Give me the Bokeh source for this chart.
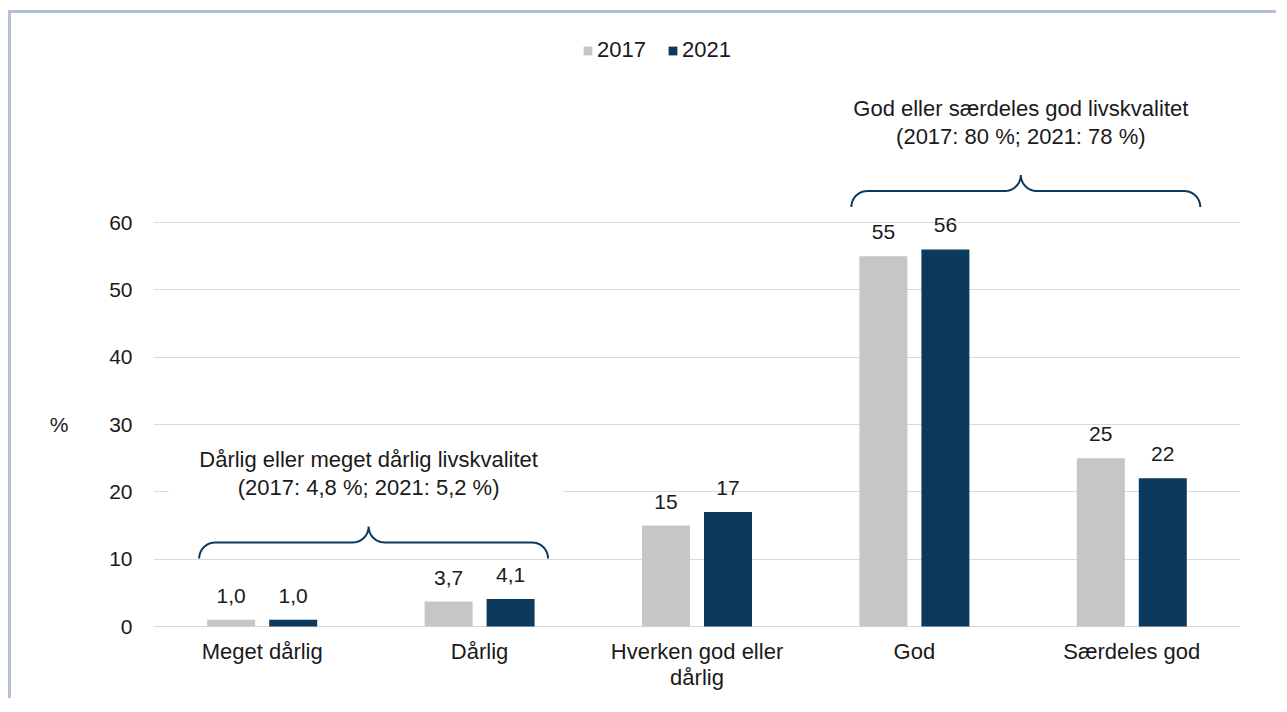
import math
from bokeh.plotting import figure
from bokeh.models import (ColumnDataSource, FactorRange, Range1d, FixedTicker, Legend,
                          LegendItem, LabelSet, Label, BoxAnnotation, LinearAxis)
from bokeh.transform import dodge
from bokeh.core.properties import value
from bokeh.embed import file_html
from bokeh.resources import INLINE

# ---------------- data ----------------
CATEGORIES = ["Meget dårlig", "Dårlig", "Hverken god eller\ndårlig", "God", "Særdeles god"]
SERIES = ["2017", "2021"]
VALUES_2017 = [1.0, 3.7, 15, 55, 25]
VALUES_2021 = [1.0, 4.1, 17, 56, 22]
Y_TICKS = [0, 10, 20, 30, 40, 50, 60]
Y_UNIT = "%"
# group annotations: title, subtitle, first category index, last category index, brace base (y value)
GROUP_TITLES = ["Dårlig eller meget dårlig livskvalitet", "God eller særdeles god livskvalitet"]
GROUP_SUBTITLES = ["(2017: 4,8 %; 2021: 5,2 %)", "(2017: 80 %; 2021: 78 %)"]
GROUP_FIRST = [0, 3]
GROUP_LAST = [1, 4]
GROUP_BASE = [10.1, 62.3]

# ---------------- style / layout ----------------
FONT = "Liberation Sans"
TEXT = "#1a1a1a"
GREY = "#c6c6c6"
NAVY = "#0b3a5e"
GRID = "#d9d9d9"
BORDER = "#b4c0d6"

W, H = 1268, 688
B_LEFT, B_RIGHT, B_TOP, B_BOTTOM = 142, 39, 0, 71
FRAME_W = W - B_LEFT - B_RIGHT
FRAME_H = H - B_TOP - B_BOTTOM
YPX = 6.7333            # pixels per unit on the value axis
Y0_PX = 4               # distance of value 0 above frame bottom
XPX = FRAME_W / len(CATEGORIES)

y_start = -Y0_PX / YPX
y_end = (FRAME_H - Y0_PX) / YPX

OFFSET = 31 / XPX
BAR_W = 48 / XPX


def fmt(v):
    return f"{v:.1f}".replace(".", ",") if v < 10 else f"{v:.0f}"


src = ColumnDataSource(dict(
    cat=CATEGORIES,
    y2017=VALUES_2017,
    y2021=VALUES_2021,
    l2017=[fmt(v) for v in VALUES_2017],
    l2021=[fmt(v) for v in VALUES_2021],
))

p = figure(width=W, height=H, output_backend="svg", toolbar_location=None,
           x_range=FactorRange(*CATEGORIES, range_padding=0),
           y_range=Range1d(y_start, y_end),
           min_border_left=B_LEFT, min_border_right=B_RIGHT,
           min_border_top=B_TOP, min_border_bottom=B_BOTTOM)
p.outline_line_color = None
p.background_fill_color = "white"
p.border_fill_color = "white"
p.styles = {"border-top": f"3px solid {BORDER}", "border-left": f"3px solid {BORDER}",
            "margin-left": "8px", "margin-top": "10px"}

r1 = p.vbar(x=dodge("cat", -OFFSET, range=p.x_range), top="y2017", width=BAR_W,
            source=src, fill_color=GREY, line_color=None)
r2 = p.vbar(x=dodge("cat", OFFSET, range=p.x_range), top="y2021", width=BAR_W,
            source=src, fill_color=NAVY, line_color=None)

for col, off in (("l2017", -OFFSET), ("l2021", OFFSET)):
    p.add_layout(LabelSet(x=dodge("cat", off, range=p.x_range), y=col.replace("l", "y"),
                          text=col, source=src, text_align="center",
                          text_baseline="alphabetic", y_offset=17,
                          text_font=value(FONT), text_font_size="21px", text_color=TEXT))

# axes
p.yaxis.ticker = FixedTicker(ticks=Y_TICKS)
p.yaxis.axis_line_color = None
p.yaxis.major_tick_line_color = None
p.yaxis.minor_tick_line_color = None
p.yaxis.major_label_standoff = 15
p.yaxis.major_label_text_font = FONT
p.yaxis.major_label_text_font_size = "21px"
p.yaxis.major_label_text_color = TEXT

# unit "%" placed at the middle of the value scale via an extra axis with one tick
mid = (Y_TICKS[0] + Y_TICKS[-1]) / 2
unit_axis = LinearAxis(ticker=FixedTicker(ticks=[mid]), major_label_overrides={mid: Y_UNIT},
                       axis_line_color=None, major_tick_line_color=None,
                       minor_tick_line_color=None, major_label_standoff=32,
                       major_label_text_font=FONT, major_label_text_font_size="21px",
                       major_label_text_color=TEXT)
p.add_layout(unit_axis, "left")

p.xaxis.axis_line_color = None
p.xaxis.major_tick_line_color = None
p.xaxis.minor_tick_line_color = None
p.xaxis.major_label_standoff = 2
p.xaxis.major_label_text_font = FONT
p.xaxis.major_label_text_font_size = "22px"
p.xaxis.major_label_text_color = TEXT
p.xaxis.major_label_text_line_height = 1.05

p.xgrid.visible = False
p.ygrid.grid_line_color = GRID
p.ygrid.grid_line_width = 1

# group braces and texts
R = 16  # brace radius in px


def arc(cx, cy, a0, a1, n=12):
    dx, dy = R / XPX, R / YPX
    pts = []
    for k in range(n + 1):
        a = math.radians(a0 + (a1 - a0) * k / n)
        pts.append((cx + dx * math.cos(a), cy + dy * math.sin(a)))
    return pts


for title, sub, i0, i1, base in zip(GROUP_TITLES, GROUP_SUBTITLES, GROUP_FIRST, GROUP_LAST, GROUP_BASE):
    xl = i0 + 0.5 - 0.29
    xr = i1 + 0.5 + 0.315
    xp = (xl + xr) / 2 - 5 / XPX
    dx, dy = R / XPX, R / YPX
    pts = []
    pts += arc(xl + dx, base, 180, 90)
    pts += arc(xp - dx, base + 2 * dy, 270, 360)
    pts += arc(xp + dx, base + 2 * dy, 180, 270)
    pts += arc(xr - dx, base, 90, 0)
    p.line([q[0] for q in pts], [q[1] for q in pts], line_color=NAVY, line_width=2)

    p.add_layout(BoxAnnotation(left=xp - 200 / XPX, right=xp + 195 / XPX,
                               bottom=base + 52 / YPX, top=base + 112 / YPX,
                               fill_color="white", fill_alpha=1, line_alpha=0))
    p.add_layout(Label(x=xp, y=base + 98.5 / YPX, text=title, text_align="center",
                       text_baseline="alphabetic", text_font=FONT, text_font_size="22px",
                       text_color=TEXT))
    p.add_layout(Label(x=xp, y=base + 71 / YPX, text=sub, text_align="center",
                       text_baseline="alphabetic", text_font=FONT, text_font_size="22px",
                       text_color=TEXT))

legend = Legend(items=[LegendItem(label=SERIES[0], renderers=[r1]),
                       LegendItem(label=SERIES[1], renderers=[r2])],
                location=(429, 567), orientation="horizontal",
                glyph_width=11, glyph_height=11, label_standoff=4, spacing=21,
                padding=0, margin=0, label_height=22,
                label_text_font=FONT, label_text_font_size="22px", label_text_color=TEXT,
                background_fill_alpha=0, border_line_color=None)
p.add_layout(legend)

open("out.html", "w").write(file_html(p, INLINE))
